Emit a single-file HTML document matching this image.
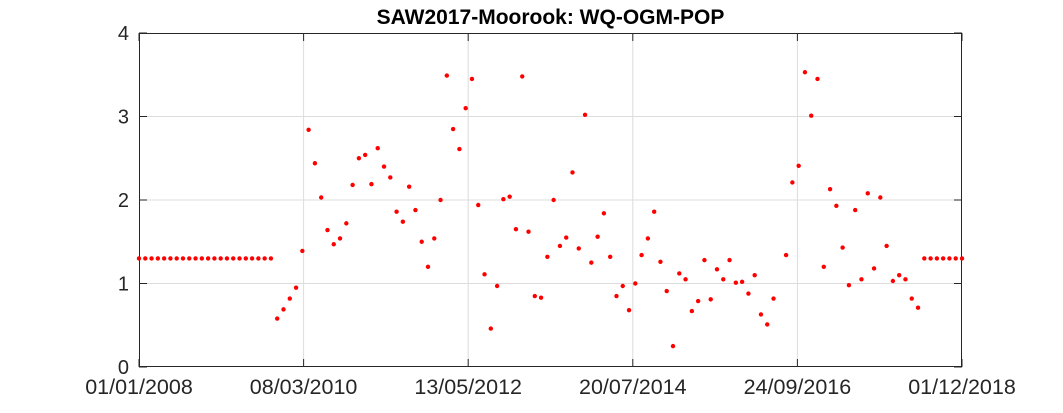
<!DOCTYPE html>
<html><head><meta charset="utf-8"><style>
body{margin:0;background:#fff;}
svg{display:block;font-family:"Liberation Sans",Arial,sans-serif;}
</style></head><body>
<svg id="chart" width="1063" height="413"></svg>
<script>
const startFlat = 22;
const flatValue = 1.3;
const dataValues = [0.58,0.69,0.82,0.95,1.39,2.84,2.44,2.03,1.64,1.47,1.54,1.72,2.18,2.50,2.54,2.19,2.62,2.40,2.27,1.86,1.74,2.16,1.88,1.50,1.20,1.54,2.00,3.49,2.85,2.61,3.10,3.45,1.94,1.11,0.46,0.97,2.01,2.04,1.65,3.48,1.62,0.85,0.83,
1.32,2.00,1.45,1.55,2.33,1.42,3.02,1.25,1.56,1.84,1.32,0.85,0.97,0.68,1.00,1.34,1.54,1.86,1.26,0.91,0.25,1.12,1.05,0.67,0.79,1.28,0.81,1.17,1.05,1.28,1.01,1.02,0.88,1.10,0.63,0.51,0.82,
null,1.34,
2.21,2.41,3.53,3.01,3.45,1.20,2.13,1.93,1.43,0.98,1.88,1.05,2.08,1.18,2.03,1.45,1.03,1.10,1.05,0.82,0.71];
const endFlat = 7;
const xTickLabels = ["01/01/2008","08/03/2010","13/05/2012","20/07/2014","24/09/2016","01/12/2018"];
const xTickMonths = [0,26.2,52.4,78.6,104.8,131];
const yTicks = [0,1,2,3,4];

const values = [];
for (let i=0;i<startFlat;i++) values.push(flatValue);
dataValues.forEach(v=>values.push(v));
for (let i=0;i<endFlat;i++) values.push(flatValue);

const L=139,R=962,T=33,B=367,maxM=131;
const xs=m=>L+m*(R-L)/maxM;
const ys=v=>B-v*(B-T)/4;
const svg=document.getElementById('chart');
const NS='http://www.w3.org/2000/svg';
function mk(tag,attrs){const e=document.createElementNS(NS,tag);for(const k in attrs)e.setAttribute(k,attrs[k]);svg.appendChild(e);return e;}

mk('rect',{x:L,y:T,width:R-L,height:B-T,fill:'#fff'});
yTicks.forEach(t=>{
  if(t>0&&t<4){const g=mk('line',{x1:L,x2:R,y1:ys(t),y2:ys(t),stroke:'#dcdcdc','stroke-width':1});
  
  }
  const tk=mk('line',{x1:L,x2:L+8,y1:ys(t),y2:ys(t),stroke:'#262626'});
  
  
  mk('line',{x1:R-8,x2:R,y1:ys(t),y2:ys(t),stroke:'#262626'});
  const tx=mk('text',{x:L-10,y:ys(t)+7,'text-anchor':'end','font-size':20,fill:'#262626'});
  tx.textContent=t;
  
  
});
xTickMonths.forEach((m,i)=>{
  if(i>0&&i<xTickMonths.length-1){const g=mk('line',{x1:xs(m),x2:xs(m),y1:T,y2:B,stroke:'#dcdcdc'});
  
  }
  mk('line',{x1:xs(m),x2:xs(m),y1:B,y2:B-8,stroke:'#262626'});
  mk('line',{x1:xs(m),x2:xs(m),y1:T,y2:T+8,stroke:'#262626'});
  const tx=mk('text',{x:xs(m),y:B+27,'text-anchor':'middle','font-size':21.5,fill:'#262626'});
  tx.textContent=xTickLabels[i];
  
  
});
const box=mk('rect',{x:L+0.5,y:T+0.5,width:R-L-1,height:B-T-1,fill:'none',stroke:'#262626','stroke-width':1});


values.forEach((v,i)=>{
  if(v===null)return;
  const c=mk('circle',{cx:xs(i),cy:ys(v),r:2.2,fill:'#ff0000'});
  
  
});
const title=mk('text',{x:(L+R)/2,y:24,'text-anchor':'middle','font-size':21,'font-weight':'bold',fill:'#000'});
title.textContent='SAW2017-Moorook: WQ-OGM-POP';


</script>
</body></html>
